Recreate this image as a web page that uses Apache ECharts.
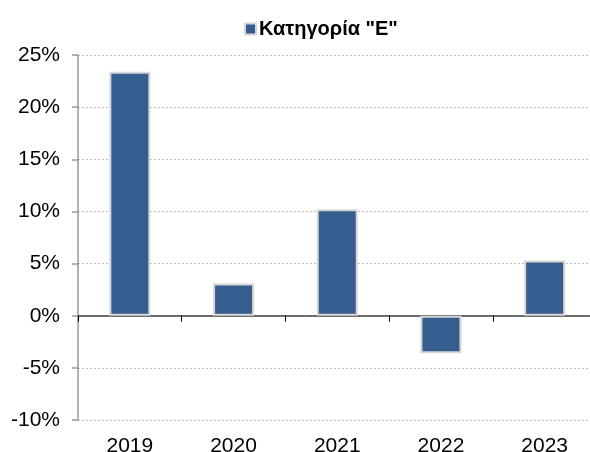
<!DOCTYPE html>
<html>
<head>
<meta charset="utf-8">
<script src="https://cdn.jsdelivr.net/npm/echarts@6/dist/echarts.min.js"></script>
<style>html,body{margin:0;padding:0;background:#fff;overflow:hidden;}#c{width:590px;height:452px;}</style>
</head>
<body>
<div id="c"></div>
<script>
const categories = ['2019', '2020', '2021', '2022', '2023'];
const seriesName = 'Κατηγορία "E"';
const values = [23.4, 3.1, 10.2, -3.6, 5.3];
const yTicks = { min: -10, max: 25, interval: 5 };

const chart = echarts.init(document.getElementById('c'), null, { renderer: 'canvas', width: 590, height: 452 });
chart.setOption({
  animation: false,
  backgroundColor: '#ffffff',
  textStyle: { fontFamily: 'Liberation Sans, Arial, sans-serif' },
  legend: {
    left: 239, top: 14,
    itemWidth: 11, itemHeight: 11, itemGap: 5,
    icon: 'rect',
    textStyle: { fontSize: 20, fontWeight: 'bold', color: '#000', fontFamily: 'Liberation Sans, Arial, sans-serif', padding: [0, 0, 0, -2] },
    data: [seriesName]
  },
  grid: { left: 78, top: 55, width: 518.5, height: 365, containLabel: false, outerBoundsMode: 'none' },
  xAxis: [{
    type: 'category', data: categories,
    axisLine: { onZero: true, lineStyle: { color: '#404040', width: 1.5 } },
    axisTick: { show: true, alignWithLabel: false, length: 6, lineStyle: { color: '#000', width: 1 } },
    axisLabel: { show: false },
    splitLine: { show: false }
  }, {
    type: 'category', data: categories, position: 'bottom',
    axisLine: { show: false, onZero: false },
    axisTick: { show: false },
    axisLabel: { show: true, fontSize: 21, color: '#000', margin: 16, fontFamily: 'Liberation Sans, Arial, sans-serif' },
    splitLine: { show: false }
  }],
  yAxis: {
    type: 'value', min: yTicks.min, max: yTicks.max, interval: yTicks.interval,
    axisLine: { show: true, lineStyle: { color: '#999', width: 1.5 } },
    axisTick: { show: true, length: 6, lineStyle: { color: '#999', width: 1.5 } },
    axisLabel: { fontSize: 21, color: '#000', margin: 18, formatter: '{value}%', fontFamily: 'Liberation Sans, Arial, sans-serif' },
    splitLine: { show: true, lineStyle: { color: '#bdbdbd', type: [2, 2], width: 1 } }
  },
  series: [{
    name: seriesName, type: 'bar', xAxisIndex: 0, data: values,
    barWidth: 41,
    itemStyle: { color: '#355e8f', borderColor: '#d6d6d6', borderWidth: 2 }
  }]
});
</script>
</body>
</html>
